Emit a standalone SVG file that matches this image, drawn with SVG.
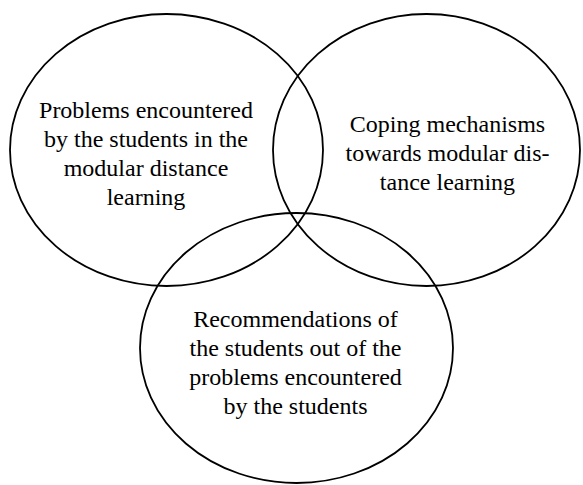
<svg xmlns="http://www.w3.org/2000/svg" width="583" height="485" viewBox="0 0 583 485">
<style>
.c{fill:none;stroke:#000;stroke-width:1.8}
</style>
<rect width="583" height="485" fill="#fff"/>
<g id="problems">
<ellipse class="c" cx="166.5" cy="150" rx="156.5" ry="136"/>
<text x="146" y="118" font-size="24" font-family="'Liberation Serif'" text-anchor="middle">Problems encountered</text>
<text x="146" y="147" font-size="24" font-family="'Liberation Serif'" text-anchor="middle">by the students in the</text>
<text x="146" y="176" font-size="24" font-family="'Liberation Serif'" text-anchor="middle">modular distance</text>
<text x="146" y="205" font-size="24" font-family="'Liberation Serif'" text-anchor="middle">learning</text>
</g>
<g id="coping">
<ellipse class="c" cx="426.5" cy="150" rx="153.5" ry="136"/>
<text x="447.5" y="132" font-size="24" font-family="'Liberation Serif'" text-anchor="middle">Coping mechanisms</text>
<text x="447.5" y="161" font-size="24" font-family="'Liberation Serif'" text-anchor="middle">towards modular dis-</text>
<text x="447.5" y="190" font-size="24" font-family="'Liberation Serif'" text-anchor="middle">tance learning</text>
</g>
<g id="recommendations">
<ellipse class="c" cx="296.5" cy="348" rx="156.5" ry="135"/>
<text x="295.5" y="327" font-size="24" font-family="'Liberation Serif'" text-anchor="middle">Recommendations of</text>
<text x="295.5" y="356" font-size="24" font-family="'Liberation Serif'" text-anchor="middle">the students out of the</text>
<text x="295.5" y="385" font-size="24" font-family="'Liberation Serif'" text-anchor="middle">problems encountered</text>
<text x="295.5" y="414" font-size="24" font-family="'Liberation Serif'" text-anchor="middle">by the students</text>
</g>
<g id="connectors"/>
</svg>
